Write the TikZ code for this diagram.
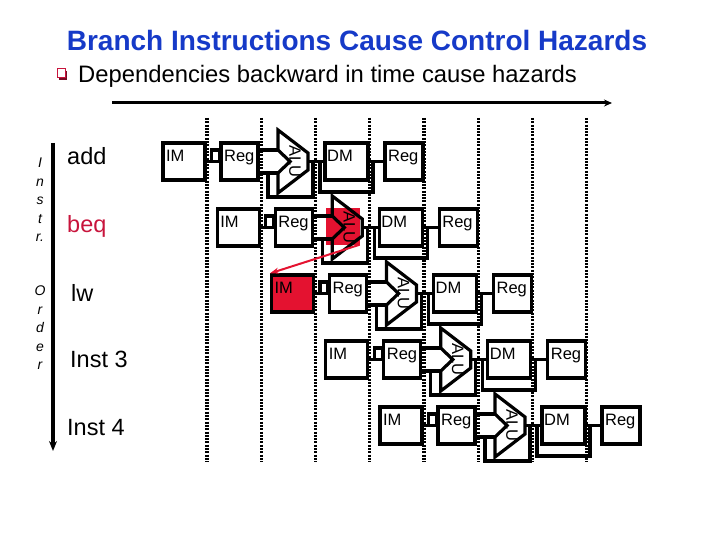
\documentclass[tikz,border=0pt]{standalone}
\usepackage{fontspec}
\setmainfont{Liberation Sans}
\usetikzlibrary{arrows.meta}
\definecolor{titleblue}{RGB}{22,58,200}
\definecolor{hazred}{RGB}{228,18,48}
\definecolor{beqred}{RGB}{200,20,60}
\newcommand{\unitfont}{\fontsize{16.5}{16.5}\selectfont}

\begin{document}
\begin{tikzpicture}[x=1pt,y=-1pt,line join=miter,
  unit/.style={draw,line width=3.2pt,inner sep=0pt,minimum height=37pt,minimum width=#1},
  wire/.style={line width=3.2pt},
  cycleline/.style={line width=3.2pt,dash pattern=on 2pt off 1.3pt},
  unitlabel/.style={font=\unitfont,inner sep=0pt,anchor=north west,xshift=4.5pt,yshift=-9pt},
  instr/.style={font=\fontsize{23.5}{23.5}\selectfont,anchor=base west,inner sep=0pt},
  orderword/.style={font=\itshape\fontsize{14}{18.5}\selectfont,align=center,inner sep=0pt,anchor=north}]
\useasboundingbox (0,0) rectangle (720,540);

% title and bullet
\node[font=\bfseries\fontsize{28}{28}\selectfont,text=titleblue] (title) at (357,40) {Branch Instructions Cause Control Hazards};
\fill[beqred!60!black] (59,71) rectangle (67,80);
\filldraw[fill=white,draw=beqred,line width=1pt] (57,69) rectangle (65,78);
\node[font=\fontsize{23.8}{23.8}\selectfont,anchor=base west,inner sep=0pt] (sub) at (78,83) {Dependencies backward in time cause hazards};

% time axis
\coordinate (tstart) at (112,103);
\coordinate (tend) at (612,103);
\draw[line width=3pt,-{Stealth[length=8pt,width=7pt]}] (tstart) -- (tend);

% instruction order axis
\coordinate (otop) at (53,143);
\coordinate (obot) at (53,451);
\draw[line width=4pt,-{Stealth[length=10pt,width=8pt]}] (otop) -- (obot);
\node[orderword] (ord1) at (40,158) {I\\n\\s\\t\\r.};
\node[orderword] (ord2) at (40,286) {O\\r\\d\\e\\r};

\node[instr] (add) at (67,165) {add};
\node[instr,text=beqred] (beq) at (67,233) {beq};
\node[instr] (lw) at (71,301) {lw};
\node[instr] (in3) at (70,367) {Inst 3};
\node[instr] (in4) at (67,435) {Inst 4};

% clock cycles
\foreach \k in {0,...,7}
  \draw[cycleline] (207+54.25*\k,118) -- (207+54.25*\k,462);

% hazard mark behind the beq ALU
\node[fill=hazred,minimum width=34pt,minimum height=36pt,inner sep=0pt] (hz) at (342.5,226.5) {};

% pipeline rows
\foreach \i/\imfill/\alufill in {1/white/white,2/white/none,3/hazred/white,4/white/white,5/white/white}{
  \pgfmathsetmacro{\xo}{163+54.25*(\i-1)}
  \pgfmathsetmacro{\yo}{143+66*(\i-1)}
  \node[unit=42pt,fill=\imfill,label={[unitlabel]north west:IM}] (im\i) at (\xo+21,\yo+18.5) {};
  \node[unit=37pt,fill=white,label={[unitlabel]north west:Reg}] (rga\i) at (\xo+76.5,\yo+18.5) {};
  \node[unit=43pt,fill=white,label={[unitlabel,xshift=-1pt]north west:DM}] (dm\i) at (\xo+183.5,\yo+18.5) {};
  \node[unit=38pt,fill=white,label={[unitlabel]north west:Reg}] (rgb\i) at (\xo+241,\yo+18.5) {};
  \coordinate (aluA\i) at (\xo+115,\yo+7);
  \coordinate (aluB\i) at (\xo+115,\yo+30);
  \coordinate (aluO\i) at (\xo+145,\yo+18.5);
  \draw[wire] (im\i) -- (rga\i);
  \draw[wire] (rga\i.west) rectangle ++(-8,-11.5);
  \draw[wire] (rga\i.east |- aluA\i) -- (aluA\i);
  \draw[wire] (rga\i.east |- aluB\i) -- (aluB\i);
  \draw[wire] (\xo+105,\yo+30) |- (\xo+150,\yo+54) -- (\xo+150,\yo+18.5);
  \draw[wire] (\xo+157,\yo+18.5) |- (\xo+210,\yo+49) -- (\xo+210,\yo+18.5);
  \draw[wire] (aluO\i) -- (dm\i);
  \draw[wire] (dm\i) -- (rgb\i);
  \draw[wire,fill=\alufill] (\xo+115,\yo-13) -- (\xo+145,\yo+10) -- (\xo+145,\yo+27)
    -- (\xo+115,\yo+50) -- (aluB\i) -- (\xo+127,\yo+18.5) -- (aluA\i) -- cycle;
  \node[font=\unitfont,rotate=-90,inner sep=0pt] (alut\i) at (\xo+132,\yo+18.5) {ALU};
}

% branch outcome needed by the next fetch
\draw[hazred,line width=2pt,-{Stealth[length=9pt,width=6pt]}] (hz.south east) -- (im3.north west);
\end{tikzpicture}
\end{document}
